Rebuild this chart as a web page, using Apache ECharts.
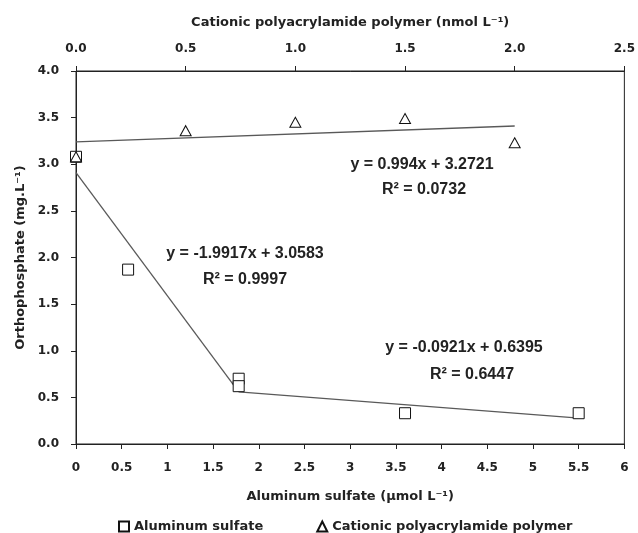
<!DOCTYPE html>
<html>
<head>
<meta charset="utf-8">
<script src="https://cdn.jsdelivr.net/npm/echarts@6/dist/echarts.min.js"></script>
<style>
html,body{margin:0;padding:0;background:#fff;}
#chart{width:638px;height:533px;}
</style>
</head>
<body>
<div id="chart"></div>
<script>
// ---- data ----
var alumX = [0, 0.57, 1.78, 1.78, 3.6, 5.5];
var alumY = [3.08, 1.87, 0.70, 0.62, 0.33, 0.33];
var polyX = [0, 0.5, 1.0, 1.5, 2.0];
var polyY = [3.08, 3.36, 3.45, 3.49, 3.23];
// trend lines (as drawn)
var alumFit1X = [0, 1.78];
var alumFit1Y = [2.91, 0.56];
var alumFit2X = [1.78, 5.47];
var alumFit2Y = [0.56, 0.28];
var polyFitX = [0, 2.0];
var polyFitY = [3.24, 3.41];
// labels
var seriesNames = ['Aluminum sulfate', 'Cationic polyacrylamide polymer'];
var bottomAxisName = 'Aluminum sulfate (µmol L⁻¹)';
var topAxisName = 'Cationic polyacrylamide polymer (nmol L⁻¹)';
var yAxisName = 'Orthophosphate (mg.L⁻¹)';
var equations = ['y = 0.994x + 3.2721', 'R² = 0.0732', 'y = -1.9917x + 3.0583', 'R² = 0.9997', 'y = -0.0921x + 0.6395', 'R² = 0.6447'];

function zip(xs, ys) { return xs.map(function (x, i) { return [x, ys[i]]; }); }

var FONT = 'DejaVu Sans';
var TXT = '#222';
var lblStyle = { fontFamily: FONT, fontWeight: 'bold', fontSize: 12, color: TXT };
var nameStyle = { fontFamily: FONT, fontWeight: 'bold', fontSize: 13, color: TXT };
var axisLine = { show: true, lineStyle: { color: '#222', width: 1 } };
var axisTick = { show: true, inside: false, length: 5, lineStyle: { color: '#222', width: 1 } };
var fitLine = { color: '#595959', width: 1.3 };

var chart = echarts.init(document.getElementById('chart'), null, { renderer: 'canvas' });

var eqFont = 'bold 16px "Liberation Sans"';
var positions = [[422, 165], [424, 190], [245, 254], [245, 280], [464, 348], [472, 375]];

chart.setOption({
  animation: false,
  backgroundColor: '#fff',
  grid: { left: 76, right: 12, top: 71, bottom: 89, show: true, borderColor: '#222', borderWidth: 1, backgroundColor: 'transparent' },
  legend: {
    data: [{ name: seriesNames[0], icon: 'rect' }, { name: seriesNames[1], icon: 'triangle' }],
    left: 113, top: 515, itemWidth: 10, itemHeight: 10, itemGap: 53,
    textStyle: { fontFamily: FONT, fontWeight: 'bold', fontSize: 13, color: TXT }
  },
  xAxis: [
    {
      type: 'value', position: 'bottom', min: 0, max: 6, interval: 0.5,
      name: bottomAxisName, nameLocation: 'middle', nameGap: 46, nameTextStyle: nameStyle,
      axisLine: axisLine, axisTick: axisTick, splitLine: { show: false },
      axisLabel: Object.assign({ margin: 18 }, lblStyle)
    },
    {
      type: 'value', position: 'top', min: 0, max: 2.5, interval: 0.5,
      name: topAxisName, nameLocation: 'middle', nameGap: 42, nameTextStyle: nameStyle,
      axisLine: axisLine, axisTick: axisTick, splitLine: { show: false },
      axisLabel: Object.assign({ margin: 16, formatter: function (v) { return v.toFixed(1); } }, lblStyle)
    }
  ],
  yAxis: [{
    type: 'value', min: 0, max: 4, interval: 0.5,
    name: yAxisName, nameLocation: 'middle', nameGap: 46, nameTextStyle: nameStyle,
    axisLine: axisLine, axisTick: axisTick, splitLine: { show: false },
    axisLabel: Object.assign({ margin: 17, formatter: function (v) { return v.toFixed(1); } }, lblStyle)
  }],
  series: [
    {
      name: seriesNames[0] + ' fit 1', type: 'line', xAxisIndex: 0, data: zip(alumFit1X, alumFit1Y),
      showSymbol: false, lineStyle: fitLine, z: 1, silent: true
    },
    {
      name: seriesNames[0] + ' fit 2', type: 'line', xAxisIndex: 0, data: zip(alumFit2X, alumFit2Y),
      showSymbol: false, lineStyle: fitLine, z: 1, silent: true
    },
    {
      name: seriesNames[1] + ' fit', type: 'line', xAxisIndex: 1, data: zip(polyFitX, polyFitY),
      showSymbol: false, lineStyle: fitLine, z: 1, silent: true
    },
    {
      name: seriesNames[0], type: 'scatter', xAxisIndex: 0, data: zip(alumX, alumY),
      symbol: 'rect', symbolSize: 11,
      itemStyle: { color: '#fff', borderColor: '#111', borderWidth: 1, opacity: 1 }, z: 3
    },
    {
      name: seriesNames[1], type: 'scatter', xAxisIndex: 1, data: zip(polyX, polyY),
      symbol: 'triangle', symbolSize: [11, 10],
      itemStyle: { color: '#fff', borderColor: '#111', borderWidth: 1, opacity: 1 }, z: 4
    }
  ],
  graphic: equations.map(function (t, i) {
    return {
      type: 'text', x: positions[i][0], y: positions[i][1], z: 10,
      style: { text: t, font: eqFont, fill: TXT, align: 'center', verticalAlign: 'middle' }
    };
  })
});
</script>
</body>
</html>
